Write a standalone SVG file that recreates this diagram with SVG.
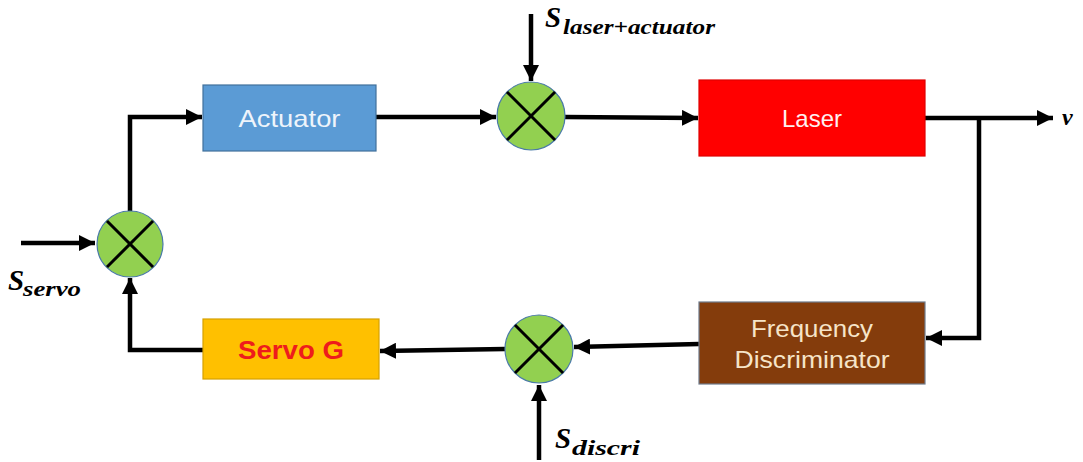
<svg xmlns="http://www.w3.org/2000/svg" width="1083" height="462" viewBox="0 0 1083 462">
<defs>
<marker id="arr" markerUnits="userSpaceOnUse" markerWidth="18" markerHeight="16" refX="16" refY="8" orient="auto">
<path d="M0,0 L16,8 L0,16 z" fill="#000"/>
</marker>
<style>
.wire{fill:none;stroke:#000;stroke-width:4.5;stroke-linejoin:miter}
.sum{fill:#92d050;stroke:#4a7aa8;stroke-width:1.2}
.x{stroke:#000;stroke-width:3}
.box{stroke-width:1.2}
.lbl{font-family:"Liberation Sans",Arial,sans-serif;font-size:24px;text-anchor:middle}
.servo{font-size:26px;font-weight:bold}
.math{font-family:"Liberation Serif","DejaVu Serif",serif;font-style:italic;font-weight:bold}
</style>
</defs>
<rect width="1083" height="462" fill="#fff"/>
<g id="connectors">
<line class="wire" x1="21" y1="243" x2="95" y2="243" marker-end="url(#arr)"/>
<polyline class="wire" points="130,211 130,117 202,117" marker-end="url(#arr)"/>
<line class="wire" x1="376" y1="117" x2="496" y2="117" marker-end="url(#arr)"/>
<line class="wire" x1="531" y1="14" x2="531" y2="81" marker-end="url(#arr)"/>
<line class="wire" x1="565" y1="117" x2="698" y2="118" marker-end="url(#arr)"/>
<line class="wire" x1="925" y1="118" x2="1053" y2="118" marker-end="url(#arr)"/>
<polyline class="wire" points="979,118 979,338 926,338" marker-end="url(#arr)"/>
<line class="wire" x1="699" y1="344" x2="574" y2="347" marker-end="url(#arr)"/>
<line class="wire" x1="505" y1="349" x2="380" y2="351" marker-end="url(#arr)"/>
<polyline class="wire" points="203,350 130,350 130,278" marker-end="url(#arr)"/>
<line class="wire" x1="539" y1="460" x2="539" y2="385" marker-end="url(#arr)"/>
</g>
<g id="sum-left">
<circle class="sum" cx="130" cy="244" r="33"/>
<line class="x" x1="107" y1="221" x2="153" y2="267"/>
<line class="x" x1="153" y1="221" x2="107" y2="267"/>
</g>
<g id="sum-top">
<circle class="sum" cx="531" cy="116" r="34"/>
<line class="x" x1="507" y1="92" x2="555" y2="140"/>
<line class="x" x1="555" y1="92" x2="507" y2="140"/>
</g>
<g id="sum-bottom">
<circle class="sum" cx="539" cy="349" r="34"/>
<line class="x" x1="515" y1="325" x2="563" y2="373"/>
<line class="x" x1="563" y1="325" x2="515" y2="373"/>
</g>
<g id="actuator">
<rect class="box" x="203" y="85" width="173" height="66" fill="#5b9bd5" stroke="#41719c"/>
<text class="lbl" x="289.5" y="127" fill="#eef4fb" textLength="102" lengthAdjust="spacingAndGlyphs">Actuator</text>
</g>
<g id="laser">
<rect class="box" x="699" y="80" width="226" height="76" fill="#ff0000" stroke="#e00000"/>
<text class="lbl" x="812" y="127" fill="#fff0f0">Laser</text>
</g>
<g id="freq-disc">
<rect class="box" x="699" y="302" width="226" height="82" fill="#843c0c" stroke="#6e7a8a"/>
<text class="lbl" x="812" y="337" fill="#f6e4c8" textLength="122" lengthAdjust="spacingAndGlyphs">Frequency</text>
<text class="lbl" x="812" y="368" fill="#f6e4c8" textLength="155" lengthAdjust="spacingAndGlyphs">Discriminator</text>
</g>
<g id="servo">
<rect class="box" x="203" y="319" width="176" height="60" fill="#ffc000" stroke="#d6a000"/>
<text class="lbl servo" x="291" y="359" fill="#ee1c1c" textLength="106" lengthAdjust="spacingAndGlyphs">Servo G</text>
</g>
<g id="labels">
<text class="math" x="8" y="290" font-size="29">S</text>
<text class="math" x="23" y="296" font-size="21" textLength="58" lengthAdjust="spacingAndGlyphs">servo</text>
<text class="math" x="545" y="27" font-size="29">S</text>
<text class="math" x="563" y="34" font-size="21" textLength="152" lengthAdjust="spacingAndGlyphs">laser+actuator</text>
<text class="math" x="555" y="448" font-size="29">S</text>
<text class="math" x="572" y="455" font-size="21" textLength="68" lengthAdjust="spacingAndGlyphs">discri</text>
<text class="math" x="1062" y="125" font-size="24">v</text>
</g>
</svg>
